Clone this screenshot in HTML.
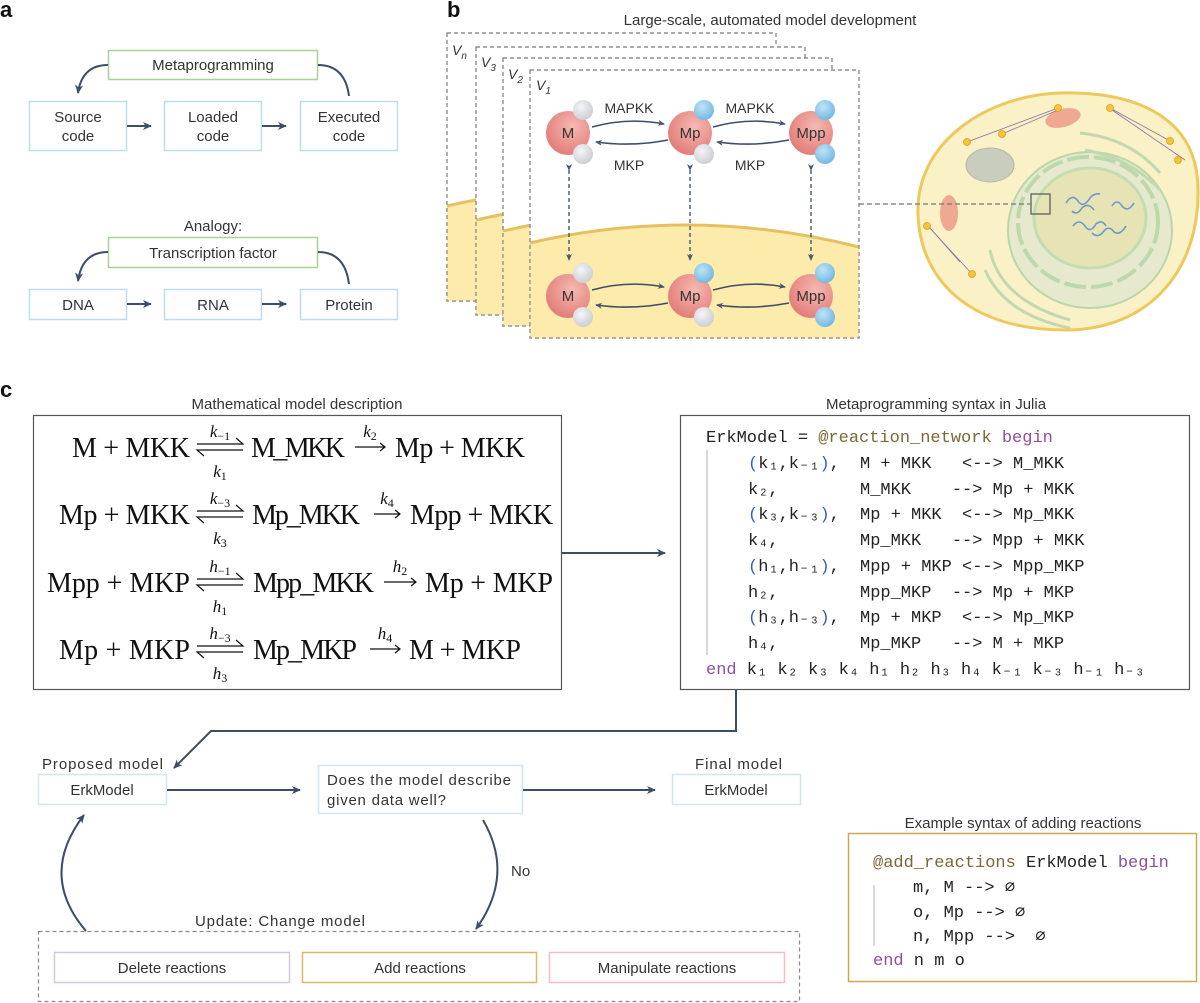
<!DOCTYPE html>
<html><head><meta charset="utf-8"><style>
html,body{margin:0;padding:0;background:#fff;}
svg{display:block;}
text{white-space:pre;}
.s{font-family:"Liberation Sans",sans-serif;fill:#333;}
.m{font-family:"Liberation Mono","DejaVu Sans Mono",monospace;font-size:17px;fill:#222;}
.e{font-family:"Liberation Serif",serif;font-size:28px;fill:#111;}
.r{font-family:"Liberation Serif",serif;font-size:17px;font-style:italic;fill:#111;}
</style></head><body>
<svg width="1200" height="1003" viewBox="0 0 1200 1003" xmlns="http://www.w3.org/2000/svg" xml:space="preserve">
<defs>
<marker id="ah" markerWidth="10" markerHeight="10" refX="8" refY="5" orient="auto" markerUnits="userSpaceOnUse"><path d="M0,1 L9,5 L0,9 L2.5,5 Z" fill="#3d4d66"/></marker>
<marker id="ahs" markerWidth="8" markerHeight="8" refX="6" refY="4" orient="auto" markerUnits="userSpaceOnUse"><path d="M0,1 L7,4 L0,7 L2,4 Z" fill="#4a5670"/></marker>
<radialGradient id="big" cx="0.6" cy="0.35" r="0.7"><stop offset="0" stop-color="#f6b8b2"/><stop offset="1" stop-color="#e27a76"/></radialGradient>
<radialGradient id="gry" cx="0.4" cy="0.35" r="0.7"><stop offset="0" stop-color="#f4f5f7"/><stop offset="1" stop-color="#c9ccd1"/></radialGradient>
<radialGradient id="blu" cx="0.4" cy="0.35" r="0.7"><stop offset="0" stop-color="#bfe4f8"/><stop offset="1" stop-color="#6fb6e2"/></radialGradient>
</defs>

<!-- Panel a -->
<text x="0" y="17" font-family="Liberation Sans" font-weight="bold" font-size="22" fill="#111">a</text>
<g stroke-width="1.5" fill="#fff">
<rect x="108.5" y="50.5" width="209" height="29" stroke="#a6d295"/>
<rect x="29.5" y="101.5" width="97" height="49" stroke="#bcdde9"/>
<rect x="164.5" y="101.5" width="97" height="49" stroke="#bcdde9"/>
<rect x="300.5" y="101.5" width="97" height="49" stroke="#bcdde9"/>
<rect x="108.5" y="237.5" width="209" height="30" stroke="#a6d295"/>
<rect x="29.5" y="289.5" width="97" height="30" stroke="#bcdde9"/>
<rect x="164.5" y="289.5" width="97" height="30" stroke="#bcdde9"/>
<rect x="300.5" y="289.5" width="97" height="30" stroke="#bcdde9"/>
</g>
<g class="s" font-size="15" text-anchor="middle">
<text x="213" y="70">Metaprogramming</text>
<text x="78" y="122">Source</text><text x="78" y="141">code</text>
<text x="213" y="122">Loaded</text><text x="213" y="141">code</text>
<text x="349" y="122">Executed</text><text x="349" y="141">code</text>
<text x="213" y="231">Analogy:</text>
<text x="213" y="258">Transcription factor</text>
<text x="78" y="310">DNA</text><text x="213" y="310">RNA</text><text x="349" y="310">Protein</text>
</g>
<g stroke="#3d4d66" stroke-width="2" fill="none">
<path d="M127,126 L151,126" marker-end="url(#ah)"/>
<path d="M262,126 L286,126" marker-end="url(#ah)"/>
<path d="M108,65 Q82,65 78,93" marker-end="url(#ah)"/>
<path d="M318,65 Q345,65 349,96"/>
<path d="M127,304 L151,304" marker-end="url(#ah)"/>
<path d="M262,304 L286,304" marker-end="url(#ah)"/>
<path d="M108,252 Q82,252 78,281" marker-end="url(#ah)"/>
<path d="M318,252 Q345,252 349,284"/>
</g>

<!-- Panel b -->
<text x="447" y="17" font-family="Liberation Sans" font-weight="bold" font-size="22" fill="#111">b</text>
<text x="770" y="25" class="s" font-size="15" text-anchor="middle" fill="#444">Large-scale, automated model development</text>
<g stroke="#8a8a8a" stroke-width="1.2" stroke-dasharray="4 3">
<g transform="translate(-83,-37)">
<rect x="530" y="70" width="329" height="268" fill="#fff"/>
<path d="M530,243 Q694,205 859,247 L859,338 L530,338 Z" fill="#fcebab" stroke="none"/>
<path d="M530,243 Q694,205 859,247" fill="none" stroke="#e6c060" stroke-width="3" stroke-dasharray="none"/>
<rect x="530" y="70" width="329" height="268" fill="none"/>
</g>
<g transform="translate(-54,-23)">
<rect x="530" y="70" width="329" height="268" fill="#fff"/>
<path d="M530,243 Q694,205 859,247 L859,338 L530,338 Z" fill="#fcebab" stroke="none"/>
<path d="M530,243 Q694,205 859,247" fill="none" stroke="#e6c060" stroke-width="3" stroke-dasharray="none"/>
<rect x="530" y="70" width="329" height="268" fill="none"/>
</g>
<g transform="translate(-27,-12)">
<rect x="530" y="70" width="329" height="268" fill="#fff"/>
<path d="M530,243 Q694,205 859,247 L859,338 L530,338 Z" fill="#fcebab" stroke="none"/>
<path d="M530,243 Q694,205 859,247" fill="none" stroke="#e6c060" stroke-width="3" stroke-dasharray="none"/>
<rect x="530" y="70" width="329" height="268" fill="none"/>
</g>
<rect x="530" y="70" width="329" height="268" fill="#fff"/>
<path d="M530,243 Q694,205 859,247 L859,338 L530,338 Z" fill="#fcebab" stroke="none"/>
<path d="M530,243 Q694,205 859,247" fill="none" stroke="#e6c060" stroke-width="3" stroke-dasharray="none"/>
<rect x="530" y="70" width="329" height="268" fill="none"/>
</g>
<g font-family="Liberation Sans" font-style="italic" font-size="14" fill="#333">
<text x="452" y="55">V<tspan font-size="10" dy="4">n</tspan></text>
<text x="481" y="67">V<tspan font-size="10" dy="4">3</tspan></text>
<text x="508" y="79">V<tspan font-size="10" dy="4">2</tspan></text>
<text x="536" y="90">V<tspan font-size="10" dy="4">1</tspan></text>
</g>
<g id="row1">
<g stroke="#3d4d66" stroke-width="1.6" fill="none">
<path d="M592,127 Q628,117 664,124" marker-end="url(#ahs)"/>
<path d="M668,140 Q632,147 596,142" marker-end="url(#ahs)"/>
<path d="M713,127 Q749,117 785,124" marker-end="url(#ahs)"/>
<path d="M789,140 Q753,147 717,142" marker-end="url(#ahs)"/>
</g>
<circle cx="568" cy="133" r="22" fill="url(#big)"/>
<circle cx="583" cy="110" r="10" fill="url(#gry)"/><circle cx="583" cy="154" r="10" fill="url(#gry)"/>
<circle cx="690" cy="133" r="22" fill="url(#big)"/>
<circle cx="704" cy="110" r="10" fill="url(#blu)"/><circle cx="704" cy="154" r="10" fill="url(#gry)"/>
<circle cx="811" cy="133" r="22" fill="url(#big)"/>
<circle cx="825" cy="110" r="10" fill="url(#blu)"/><circle cx="825" cy="154" r="10" fill="url(#blu)"/>
<g class="s" font-size="15" text-anchor="middle" fill="#333">
<text x="568" y="138">M</text><text x="690" y="138">Mp</text><text x="811" y="138">Mpp</text>
</g>
</g>
<use href="#row1" transform="translate(0,163)"/>
<g class="s" font-size="14" text-anchor="middle" fill="#333">
<text x="629" y="113">MAPKK</text><text x="750" y="113">MAPKK</text>
<text x="629" y="170">MKP</text><text x="750" y="170">MKP</text>
</g>
<g stroke="#4a5670" stroke-width="1.4" stroke-dasharray="4 3" fill="none">
<path d="M569,170 L569,260" marker-start="url(#ahs)" marker-end="url(#ahs)"/>
<path d="M690,170 L690,260" marker-start="url(#ahs)" marker-end="url(#ahs)"/>
<path d="M811,170 L811,260" marker-start="url(#ahs)" marker-end="url(#ahs)"/>
</g>

<!-- cell -->
<g>
<path d="M918,215 C915,140 990,95 1060,93 C1140,91 1198,120 1198,190 C1199,270 1150,330 1065,330 C975,330 921,285 918,215 Z" fill="#fbf1c6" stroke="#efc85c" stroke-width="3"/>
<ellipse cx="1090" cy="230" rx="82" ry="78" fill="#e7e9cf" stroke="#b9d7a8" stroke-width="2"/>
<ellipse cx="1088" cy="222" rx="70" ry="65" fill="none" stroke="#bcd9ab" stroke-width="4" stroke-dasharray="22 5"/>
<ellipse cx="1090" cy="218" rx="56" ry="50" fill="#e6e4b5" stroke="#c3dcb0" stroke-width="3"/>
<g stroke="#6d98c9" stroke-width="1.6" fill="none">
<path d="M1066,203 q6,-10 12,-2 q5,8 12,-3 q4,-5 10,-4"/>
<path d="M1072,211 q5,5 10,-3 q6,-6 12,2"/>
<path d="M1112,206 q5,-8 10,0 q6,7 12,-3"/>
<path d="M1073,226 q6,-8 12,0 q5,8 11,-2 q6,-5 10,2"/>
<path d="M1092,233 q6,6 12,-2 q5,-6 10,1 q6,4 12,-6"/>
</g>
<g fill="none" stroke="#c2d9b0" stroke-width="3">
<path d="M1080,133 q50,5 80,40"/><path d="M1085,150 q45,8 75,40"/>
<path d="M990,250 q10,50 80,70"/><path d="M985,270 q20,45 85,58"/>
</g>
<ellipse cx="990" cy="165" rx="24" ry="17" fill="#c9cdbd" stroke="#b4baa5"/>
<ellipse cx="1063" cy="118" rx="18" ry="9" fill="#f0a890" transform="rotate(-15 1063 118)"/>
<ellipse cx="949" cy="213" rx="9" ry="18" fill="#f0a890"/>
<g fill="none" stroke="#8b6ea8" stroke-width="0.8">
<path d="M967,142 L1058,108"/><path d="M1002,134 L1058,110"/><path d="M1110,108 L1172,142"/><path d="M1112,110 L1185,160"/><path d="M928,226 L972,274"/><path d="M930,228 L960,262"/>
</g>
<g fill="#f6c23a" stroke="#d9a020" stroke-width="0.8">
<circle cx="967" cy="142" r="3.5"/><circle cx="1002" cy="134" r="3.5"/><circle cx="1058" cy="108" r="3.5"/><circle cx="1110" cy="108" r="3.5"/><circle cx="1170" cy="141" r="3.5"/><circle cx="1178" cy="160" r="3.5"/><circle cx="927" cy="226" r="3.5"/><circle cx="972" cy="274" r="3.5"/>
</g>
<rect x="1031" y="194" width="19" height="20" fill="none" stroke="#555" stroke-width="1.2"/>
</g>
<path d="M859,204 L1031,204" stroke="#777" stroke-width="1.2" stroke-dasharray="5 3"/>

<!-- Panel c -->
<text x="0" y="397" font-family="Liberation Sans" font-weight="bold" font-size="22" fill="#111">c</text>
<text x="297" y="409" class="s" font-size="15" text-anchor="middle" fill="#333">Mathematical model description</text>
<rect x="33.5" y="415.5" width="528" height="274" fill="#fff" stroke="#555" stroke-width="1.2"/>
<g class="e">
<text x="72" y="457" textLength="118">M + MKK</text>
<text x="251" y="457" textLength="94">M_MKK</text>
<text x="395" y="457" textLength="130">Mp + MKK</text>
<text x="59" y="524" textLength="131">Mp + MKK</text>
<text x="252" y="524" textLength="108">Mp_MKK</text>
<text x="410" y="524" textLength="143">Mpp + MKK</text>
<text x="47" y="592" textLength="143">Mpp + MKP</text>
<text x="253" y="592" textLength="121">Mpp_MKK</text>
<text x="425" y="592" textLength="128">Mp + MKP</text>
<text x="59" y="659" textLength="131">Mp + MKP</text>
<text x="253" y="659" textLength="104">Mp_MKP</text>
<text x="409" y="659" textLength="112">M + MKP</text>
</g>
<g id="eq" stroke="#111" stroke-width="1.2" fill="none">
<path d="M197,444 L243,444 L236,438"/>
<path d="M243,450 L197,450 L204,456"/>
</g>
<use href="#eq" transform="translate(0,67)"/>
<use href="#eq" transform="translate(0,135)"/>
<use href="#eq" transform="translate(0,202)"/>
<g stroke="#111" stroke-width="1.2" fill="none">
<path d="M355,447 L385,447 M380,443 L385,447 L380,451"/>
<path d="M374,514 L400,514 M395,510 L400,514 L395,518"/>
<path d="M384,582 L416,582 M411,578 L416,582 L411,586"/>
<path d="M370,649 L400,649 M395,645 L400,649 L395,653"/>
</g>
<g class="r" text-anchor="middle">
<text x="220" y="437">k<tspan font-size="12" dy="3" font-style="normal">−1</tspan></text>
<text x="220" y="477">k<tspan font-size="12" dy="3" font-style="normal">1</tspan></text>
<text x="370" y="437">k<tspan font-size="12" dy="3" font-style="normal">2</tspan></text>
<text x="220" y="504">k<tspan font-size="12" dy="3" font-style="normal">−3</tspan></text>
<text x="220" y="544">k<tspan font-size="12" dy="3" font-style="normal">3</tspan></text>
<text x="387" y="504">k<tspan font-size="12" dy="3" font-style="normal">4</tspan></text>
<text x="220" y="572">h<tspan font-size="12" dy="3" font-style="normal">−1</tspan></text>
<text x="220" y="612">h<tspan font-size="12" dy="3" font-style="normal">1</tspan></text>
<text x="400" y="572">h<tspan font-size="12" dy="3" font-style="normal">2</tspan></text>
<text x="220" y="639">h<tspan font-size="12" dy="3" font-style="normal">−3</tspan></text>
<text x="220" y="679">h<tspan font-size="12" dy="3" font-style="normal">3</tspan></text>
<text x="385" y="639">h<tspan font-size="12" dy="3" font-style="normal">4</tspan></text>
</g>
<path d="M562,553 L665,553" stroke="#3d4d66" stroke-width="2" marker-end="url(#ah)"/>

<!-- Julia box -->
<text x="936" y="409" class="s" font-size="15" text-anchor="middle" fill="#333">Metaprogramming syntax in Julia</text>
<rect x="680.5" y="415.5" width="509" height="274" fill="#fff" stroke="#555" stroke-width="1.2"/>
<path d="M707,450 L707,655" stroke="#ccc" stroke-width="1.5"/>
<g class="m">
<text x="706" y="442">ErkModel = <tspan fill="#7a6836">@reaction_network</tspan> <tspan fill="#8e4fa0">begin</tspan></text>
<text x="748" y="468"><tspan fill="#3a5fb0">(</tspan>k₁,k₋₁<tspan fill="#3a5fb0">)</tspan>,</text><text x="860" y="468">M + MKK   &lt;--&gt; M_MKK</text>
<text x="748" y="494">k₂,</text><text x="860" y="494">M_MKK    --&gt; Mp + MKK</text>
<text x="748" y="519"><tspan fill="#3a5fb0">(</tspan>k₃,k₋₃<tspan fill="#3a5fb0">)</tspan>,</text><text x="860" y="519">Mp + MKK  &lt;--&gt; Mp_MKK</text>
<text x="748" y="545">k₄,</text><text x="860" y="545">Mp_MKK   --&gt; Mpp + MKK</text>
<text x="748" y="571"><tspan fill="#3a5fb0">(</tspan>h₁,h₋₁<tspan fill="#3a5fb0">)</tspan>,</text><text x="860" y="571">Mpp + MKP &lt;--&gt; Mpp_MKP</text>
<text x="748" y="597">h₂,</text><text x="860" y="597">Mpp_MKP  --&gt; Mp + MKP</text>
<text x="748" y="622"><tspan fill="#3a5fb0">(</tspan>h₃,h₋₃<tspan fill="#3a5fb0">)</tspan>,</text><text x="860" y="622">Mp + MKP  &lt;--&gt; Mp_MKP</text>
<text x="748" y="648">h₄,</text><text x="860" y="648">Mp_MKP   --&gt; M + MKP</text>
<text x="706" y="674"><tspan fill="#8e4fa0">end</tspan> k₁ k₂ k₃ k₄ h₁ h₂ h₃ h₄ k₋₁ k₋₃ h₋₁ h₋₃</text>
</g>
<path d="M736,690 L736,731 L211,731 L174,768" fill="none" stroke="#3d4d66" stroke-width="2" marker-end="url(#ah)"/>

<!-- flow -->
<g stroke="#cfe6ef" stroke-width="1.5" fill="#fff">
<rect x="38.5" y="774.5" width="128" height="30"/>
<rect x="318.5" y="765.5" width="204" height="48"/>
<rect x="672.5" y="774.5" width="128" height="30"/>
</g>
<g class="s" font-size="15" fill="#333">
<text x="42" y="769" textLength="121">Proposed model</text>
<text x="695" y="769" textLength="87">Final model</text>
<text x="327" y="785" textLength="184">Does the model describe</text>
<text x="327" y="805" textLength="119">given data well?</text>
<text x="511" y="876">No</text>
<text x="195" y="926" textLength="170">Update: Change model</text>
</g>
<g class="s" font-size="15" text-anchor="middle" fill="#333">
<text x="102" y="795">ErkModel</text><text x="736" y="795">ErkModel</text>
</g>
<g stroke="#3d4d66" stroke-width="2" fill="none">
<path d="M167,790 L300,790" marker-end="url(#ah)"/>
<path d="M523,790 L655,790" marker-end="url(#ah)"/>
<path d="M483,820 Q515,875 476,929" marker-end="url(#ah)"/>
<path d="M86,931 Q38,875 84,815" marker-end="url(#ah)"/>
</g>
<rect x="38.5" y="931.5" width="761" height="70" fill="none" stroke="#888" stroke-width="1.2" stroke-dasharray="4 3"/>
<rect x="54.5" y="952.5" width="235" height="30" fill="#fff" stroke="#cdc8e4" stroke-width="1.5"/>
<rect x="302.5" y="952.5" width="234" height="30" fill="#fff" stroke="#d6bb64" stroke-width="1.5"/>
<rect x="549.5" y="952.5" width="235" height="30" fill="#fff" stroke="#f1bcc4" stroke-width="1.5"/>
<g class="s" font-size="15" text-anchor="middle" fill="#333">
<text x="172" y="973">Delete reactions</text>
<text x="420" y="973">Add reactions</text>
<text x="667" y="973">Manipulate reactions</text>
</g>

<!-- example syntax -->
<text x="1023" y="828" class="s" font-size="15" text-anchor="middle" fill="#333">Example syntax of adding reactions</text>
<rect x="848.5" y="833.5" width="348" height="148" fill="#fff" stroke="#cba94c" stroke-width="1.5"/>
<path d="M874,885 L874,946" stroke="#ccc" stroke-width="1.5"/>
<g class="m">
<text x="873" y="867"><tspan fill="#7a6836">@add_reactions</tspan> ErkModel <tspan fill="#8e4fa0">begin</tspan></text>
<text x="913" y="892">m, M --&gt; ⌀</text>
<text x="913" y="917">o, Mp --&gt; ⌀</text>
<text x="913" y="941">n, Mpp --&gt;  ⌀</text>
<text x="873" y="965"><tspan fill="#8e4fa0">end</tspan> n m o</text>
</g>
</svg>
</body></html>
